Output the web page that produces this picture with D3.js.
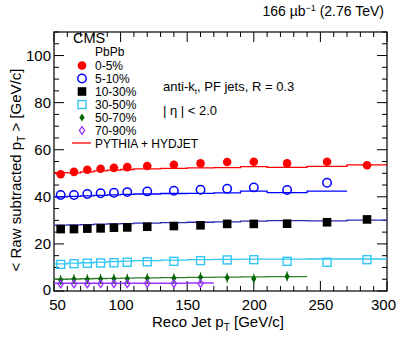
<!DOCTYPE html>
<html>
<head>
<meta charset="utf-8">
<script src="https://cdn.jsdelivr.net/npm/d3@7"></script>
<style>
  body { margin: 0; background: #fff; }
  svg text { font-family: "Liberation Sans", Arial, sans-serif; }
</style>
</head>
<body>
<svg id="chart" width="407" height="341"></svg>
<script>
// measured points (bin centres) per centrality class
var ptBins = [55, 65, 75, 85, 95, 105, 120, 140, 160, 180, 200, 225, 255, 285];
var binEdges = [50, 60, 70, 80, 90, 100, 110, 130, 150, 170, 190, 210, 240, 270, 300];

var data0_5   = [49.6, 50.6, 51.5, 51.9, 52.3, 52.6, 53.1, 53.6, 54.2, 54.8, 54.9, 54.2, 54.9, 53.4];
var data5_10  = [40.8, 40.8, 41.2, 41.5, 41.7, 42.0, 42.3, 42.6, 43.0, 43.4, 44.0, 42.9, 46.0];
var data10_30 = [26.3, 26.3, 26.5, 26.6, 26.9, 27.0, 27.3, 27.6, 27.9, 28.5, 28.5, 28.6, 29.2, 30.4];
var data30_50 = [11.3, 11.6, 11.8, 11.9, 12.0, 12.2, 12.4, 12.6, 12.9, 13.2, 13.3, 12.6, 12.2, 13.3];
var data50_70 = [4.7, 5.0, 5.0, 5.1, 5.2, 5.2, 5.4, 5.4, 5.8, 5.6, 5.2, 6.2];
var data70_90 = [3.0, 3.0, 3.0, 3.1, 3.1, 3.1, 3.2, 3.2, 3.2];

// PYTHIA + HYDJET histograms (one value per bin)
var mc0_5   = [50.3, 50.2, 50.6, 51.0, 51.3, 51.6, 51.9, 52.1, 52.3, 52.4, 52.8, 52.5, 52.9, 53.6];
var mc5_10  = [40.0, 40.2, 40.4, 40.6, 40.8, 41.0, 41.2, 41.4, 41.5, 41.7, 42.4, 41.8, 42.4];
var mc10_30 = [28.0, 28.1, 28.2, 28.4, 28.5, 28.6, 28.8, 29.0, 29.2, 29.4, 29.7, 29.9, 29.8, 30.1];
var mc30_50 = [11.5, 11.8, 12.0, 12.3, 12.5, 12.7, 12.9, 13.1, 13.3, 13.4, 13.5, 13.5, 13.6, 13.6];
var mc50_70 = [5.0, 5.1, 5.2, 5.3, 5.4, 5.5, 5.6, 5.7, 5.8, 5.9, 6.0, 6.1];
var mc70_90 = [3.3, 3.3, 3.3, 3.3, 3.3, 3.3, 3.3, 3.3, 3.4];

var xTicks = [50, 100, 150, 200, 250, 300];
var yTicks = [0, 20, 40, 60, 80, 100];

var classes = [
    {label: "0-5%",   pts: data0_5,   mc: mc0_5,   marker: "circle",  fill: "#ff0000", stroke: "#ff0000", line: "#ff0000"},
    {label: "5-10%",  pts: data5_10,  mc: mc5_10,  marker: "ocircle", fill: "none",    stroke: "#0000ff", line: "#0000ff"},
    {label: "10-30%", pts: data10_30, mc: mc10_30, marker: "square",  fill: "#000000", stroke: "#000000", line: "#2b2bb0"},
    {label: "30-50%", pts: data30_50, mc: mc30_50, marker: "osquare", fill: "none",    stroke: "#33c6f5", line: "#33c6f5"},
    {label: "50-70%", pts: data50_70, mc: mc50_70, marker: "diamond", fill: "#006600", stroke: "#006600", line: "#338033"},
    {label: "70-90%", pts: data70_90, mc: mc70_90, marker: "odiamond",fill: "none",    stroke: "#9933ff", line: "#9933ff"}
];

var W = 407, H = 341;
var margin = {top: 32, right: 20, bottom: 50, left: 54};
var plotW = W - margin.left - margin.right;
var plotH = H - margin.top - margin.bottom;

var svg = d3.select("#chart");
var g = svg.append("g").attr("transform", `translate(${margin.left},${margin.top})`);

var x = d3.scaleLinear().domain([50, 300]).range([0, plotW]);
var y = d3.scaleLinear().domain([0, 110]).range([plotH, 0]);

// frame
g.append("rect")
    .attr("width", plotW).attr("height", plotH)
    .attr("fill", "none").attr("stroke", "#000").attr("stroke-width", 1.2);

// ticks, all drawn inward on all four sides
function tickLines(vals, len, horizontal) {
    vals.forEach(function(v) {
        if (horizontal) {
            var px = x(v);
            g.append("line").attr("x1", px).attr("x2", px).attr("y1", plotH).attr("y2", plotH - len).attr("stroke", "#000");
            g.append("line").attr("x1", px).attr("x2", px).attr("y1", 0).attr("y2", len).attr("stroke", "#000");
        } else {
            var py = y(v);
            g.append("line").attr("y1", py).attr("y2", py).attr("x1", 0).attr("x2", len).attr("stroke", "#000");
            g.append("line").attr("y1", py).attr("y2", py).attr("x1", plotW).attr("x2", plotW - len).attr("stroke", "#000");
        }
    });
}
tickLines(d3.range(50, 301, 10).filter(v => v % 50 != 0), 5, true);
tickLines(xTicks, 10, true);
tickLines(d3.range(0, 111, 5).filter(v => v % 20 != 0), 5, false);
tickLines(yTicks, 10, false);

// tick labels via axes with no lines
var xAxis = g.append("g").attr("transform", `translate(0,${plotH})`)
    .call(d3.axisBottom(x).tickValues(xTicks).tickSize(0).tickPadding(8));
var yAxis = g.append("g")
    .call(d3.axisLeft(y).tickValues(yTicks).tickSize(0).tickPadding(3));
[xAxis, yAxis].forEach(function(a) {
    a.select(".domain").remove();
    a.selectAll("text").attr("font-size", 15).attr("fill", "#000")
        .attr("font-family", "Liberation Sans, Arial, sans-serif");
});
xAxis.selectAll("text").filter(d => d == 300).attr("dx", -4);
xAxis.selectAll("text").filter(d => d == 50).attr("dx", 3);
yAxis.selectAll("text").filter(d => d == 0).attr("dy", "0.2em");

// MC histograms
classes.forEach(function(c) {
    var pts = [];
    c.mc.forEach(function(v, i) {
        pts.push([binEdges[i], v]);
        pts.push([binEdges[i + 1], v]);
    });
    g.append("path")
        .attr("d", d3.line().x(d => x(d[0])).y(d => y(d[1]))(pts))
        .attr("fill", "none").attr("stroke", c.line).attr("stroke-width", 1.3);
});

function drawMarker(sel, type, fill, stroke, cx, cy) {
    if (type == "circle" || type == "ocircle") {
        sel.append("circle").attr("cx", cx).attr("cy", cy).attr("r", type == "circle" ? 4.3 : 4.2)
            .attr("fill", fill).attr("stroke", stroke).attr("stroke-width", type == "circle" ? 0 : 1.5);
    } else if (type == "square") {
        sel.append("rect").attr("x", cx - 4.3).attr("y", cy - 4.3).attr("width", 8.6).attr("height", 8.6)
            .attr("fill", fill);
    } else if (type == "osquare") {
        sel.append("rect").attr("x", cx - 4).attr("y", cy - 4).attr("width", 8).attr("height", 8)
            .attr("fill", "none").attr("stroke", stroke).attr("stroke-width", 1.4);
    } else if (type == "diamond") {
        sel.append("path").attr("d", `M${cx},${cy - 4}L${cx + 2.6},${cy}L${cx},${cy + 4}L${cx - 2.6},${cy}Z`)
            .attr("fill", fill);
    } else {
        sel.append("path").attr("d", `M${cx},${cy - 3.8}L${cx + 2.6},${cy}L${cx},${cy + 3.8}L${cx - 2.6},${cy}Z`)
            .attr("fill", "none").attr("stroke", stroke).attr("stroke-width", 1.3);
    }
}

// data points
classes.forEach(function(c) {
    var mg = g.append("g");
    c.pts.forEach(function(v, i) {
        if (c.marker == "diamond") {
            mg.append("line").attr("x1", x(ptBins[i])).attr("x2", x(ptBins[i]))
                .attr("y1", y(v) - 5).attr("y2", y(v) + 5).attr("stroke", c.stroke).attr("stroke-width", 1);
        }
        drawMarker(mg, c.marker, c.fill, c.stroke, x(ptBins[i]), y(v));
    });
});

// legend
var lg = svg.append("g").attr("font-size", 12);
lg.append("text").attr("x", 73).attr("y", 43).attr("font-size", 14.5).text("CMS");
lg.append("text").attr("x", 95).attr("y", 56).text("PbPb");
classes.forEach(function(c, i) {
    var ly = 69.5 + i * 13;
    drawMarker(lg, c.marker, c.fill, c.stroke, 82, ly - 4);
    lg.append("text").attr("x", 95).attr("y", ly).text(c.label);
});
lg.append("line").attr("x1", 72).attr("x2", 91).attr("y1", 143).attr("y2", 143)
    .attr("stroke", "#ff0000").attr("stroke-width", 1.3);
lg.append("text").attr("x", 95).attr("y", 147.5).text("PYTHIA + HYDJET");

var info = svg.append("g").attr("font-size", 13);
var t1 = info.append("text").attr("x", 163).attr("y", 91).text("anti-k");
t1.append("tspan").attr("font-size", 8).attr("dy", 3).text("t");
t1.append("tspan").attr("dy", -3).text(", PF jets, R = 0.3");
info.append("text").attr("x", 163).attr("y", 115).text("| \u03b7 | < 2.0");

// header
var hdr = svg.append("text").attr("x", 384).attr("y", 16).attr("text-anchor", "end").attr("font-size", 14)
    .text("166 \u00b5b");
hdr.append("tspan").attr("font-size", 9).attr("dy", -5).text("\u22121");
hdr.append("tspan").attr("dy", 5).text(" (2.76 TeV)");

// axis titles
var xt = svg.append("text").attr("x", 218).attr("y", 327).attr("text-anchor", "middle").attr("font-size", 15)
    .text("Reco Jet p");
xt.append("tspan").attr("font-size", 10).attr("dy", 4).text("T");
xt.append("tspan").attr("dy", -4).text(" [GeV/c]");

var yt = svg.append("text").attr("transform", "translate(21,170) rotate(-90)").attr("text-anchor", "middle")
    .attr("font-size", 15).text("< Raw subtracted p");
yt.append("tspan").attr("font-size", 10).attr("dy", 4).text("T");
yt.append("tspan").attr("dy", -4).text(" > [GeV/c]");
</script>
</body>
</html>
